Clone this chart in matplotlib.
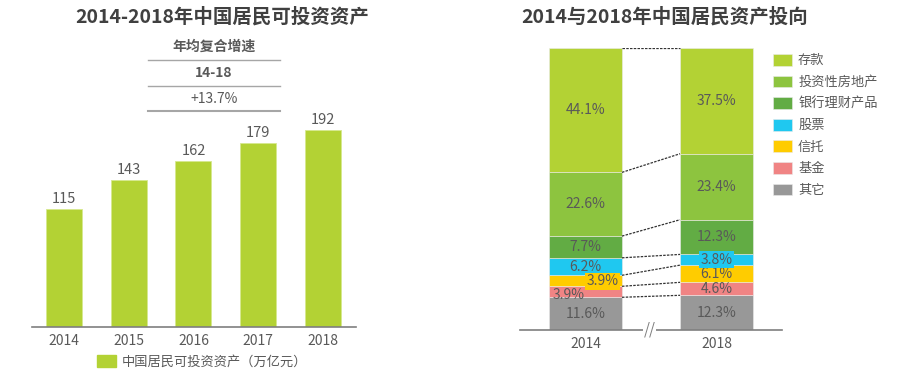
import matplotlib
matplotlib.use("Agg")
import matplotlib.pyplot as plt
from matplotlib.lines import Line2D
from matplotlib.patches import Patch

plt.rcParams['font.family'] = ['Noto Sans CJK SC', 'DejaVu Sans']

# left chart data
years = ['2014', '2015', '2016', '2017', '2018']
assets = [115, 143, 162, 179, 192]
asset_label = '中国居民可投资资产（万亿元）'

# right chart data (stacked from bottom)
mix_years = ['2014', '2018']
categories = ['其它', '基金', '信托', '股票', '银行理财产品', '投资性房地产', '存款']
share_2014 = [11.6, 3.9, 3.9, 6.2, 7.7, 22.6, 44.1]
share_2018 = [12.3, 4.6, 6.1, 3.8, 12.3, 23.4, 37.5]

cat_colors = ['#989898', '#F08484', '#FFCC00', '#1FC8F0', '#62AC44', '#8DC43F', '#B3D234']
TXT = '#595959'
W, H = 902, 385

fig = plt.figure(figsize=(W / 100, H / 100), dpi=100)


def fx(px):
    return px / W


def fy(py):
    return 1 - py / H


# ---- left chart ----
ax1 = fig.add_axes([fx(32), fy(327), fx(356 - 32), (327 - 100) / H])
xs = list(range(len(years)))
ax1.bar(xs, assets, width=0.556, color='#B3D234', edgecolor='#D6E88F', linewidth=0.6)
for i, v in enumerate(assets):
    ax1.text(i, v + 3, f"{v}", ha='center', va='bottom', fontsize=10.5, color=TXT)
ax1.set_xlim(-0.494, 4.51)
ax1.set_ylim(0, 221)
ax1.set_xticks(xs, years, fontsize=10, color=TXT)
ax1.tick_params(axis='x', length=0, pad=5)
ax1.set_yticks([])
for s in ['top', 'left', 'right']:
    ax1.spines[s].set_visible(False)
ax1.spines['bottom'].set_color('#7f7f7f')
ax1.spines['bottom'].set_linewidth(1.2)
ax1.legend(handles=[Patch(color='#B3D234', label=asset_label)], loc='upper left',
           bbox_to_anchor=(fx(97), fy(355)), bbox_transform=fig.transFigure,
           frameon=False, fontsize=9.5, handlelength=1.45, handleheight=1.0,
           handletextpad=0.45, borderpad=0, borderaxespad=0, labelcolor=TXT)

fig.text(fx(222), fy(17), '2014-2018年中国居民可投资资产', ha='center', va='center',
         fontsize=14, fontweight='bold', color='#404040')

# CAGR table
fig.text(fx(214), fy(47), '年均复合增速', ha='center', va='center', fontsize=10,
         fontweight='bold', color=TXT)
fig.text(fx(214), fy(73), '14-18', ha='center', va='center', fontsize=10,
         fontweight='bold', color=TXT)
fig.text(fx(214), fy(99), '+13.7%', ha='center', va='center', fontsize=10, color=TXT)
for yy, lw in [(60, 1.0), (86, 1.0), (111, 1.5)]:
    fig.add_artist(Line2D([fx(148), fx(280)], [fy(yy), fy(yy)], color='#a6a6a6', lw=lw))

# ---- right chart ----
ax2 = fig.add_axes([fx(520), fy(330), fx(782 - 520), (330 - 48) / H])
bw = 0.557
shares = [share_2014, share_2018]
for j, data in enumerate(shares):
    bottom = 0
    for k, v in enumerate(data):
        ax2.bar(j, v, bottom=bottom, width=bw, color=cat_colors[k], edgecolor='#eaeaea',
                linewidth=0.4, label=categories[k] if j == 0 else None)
        bottom += v

# value labels
for j, data in enumerate(shares):
    bottom = 0
    for k, v in enumerate(data):
        mid = bottom + v / 2
        x = j
        box = None
        if j == 0 and categories[k] == '信托':
            x, mid = j + 0.13, mid - 0.2
            box = dict(facecolor=cat_colors[k], edgecolor='none', pad=1)
        elif j == 0 and categories[k] == '基金':
            x, mid = j - 0.13, mid - 1.0
        elif j == 1 and categories[k] == '股票':
            box = dict(facecolor=cat_colors[k], edgecolor='none', pad=1)
        ax2.text(x, mid, f"{v:.1f}%", ha='center', va='center', fontsize=10,
                 color=TXT, bbox=box)
        bottom += v

# dashed connectors
c14, c18 = 0, 0
for a, b in zip(share_2014, share_2018):
    c14 += a
    c18 += b
    ax2.plot([bw / 2, 1 - bw / 2], [c14, c18], color='#333333', lw=0.9,
             linestyle=(0, (2, 1)))

ax2.text(0.49, 0, '//', ha='center', va='center', fontsize=11, color='#7f7f7f',
         bbox=dict(facecolor='white', edgecolor='none', pad=0.5))
ax2.set_xlim(-0.5, 1.5)
ax2.set_ylim(0, 100)
ax2.set_xticks([0, 1], mix_years, fontsize=10, color=TXT)
ax2.tick_params(axis='x', length=0, pad=5)
ax2.set_yticks([])
for s in ['top', 'left', 'right']:
    ax2.spines[s].set_visible(False)
ax2.spines['bottom'].set_color('#7f7f7f')
ax2.spines['bottom'].set_linewidth(1.2)

h, l = ax2.get_legend_handles_labels()
fig.legend(h[::-1], l[::-1], loc='upper left', bbox_to_anchor=(fx(773), fy(54)),
           frameon=False, fontsize=9.5, handlelength=1.45, handleheight=1.0,
           handletextpad=0.45, labelspacing=0.62, borderpad=0, borderaxespad=0,
           labelcolor=TXT)

fig.text(fx(665), fy(17), '2014与2018年中国居民资产投向', ha='center', va='center',
         fontsize=14, fontweight='bold', color='#404040')

fig.savefig('out.png', dpi=100)
